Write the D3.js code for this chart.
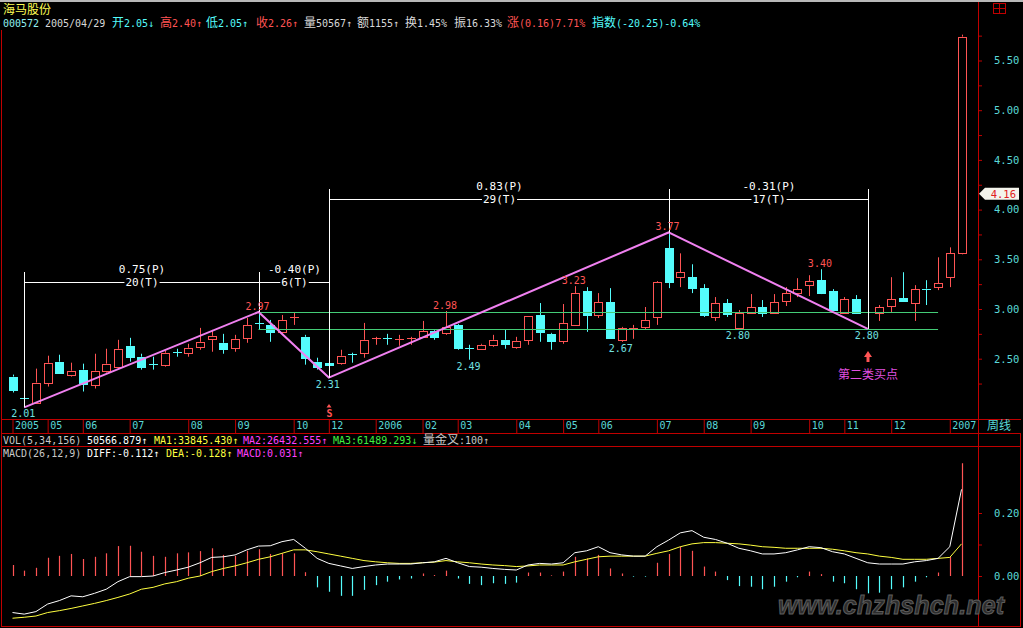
<!DOCTYPE html>
<html>
<head>
<meta charset="utf-8">
<title>海马股份 周线</title>
<script src="https://cdnjs.cloudflare.com/ajax/libs/d3/7.8.5/d3.min.js"></script>
<style>
    body { margin: 0; background: #000; overflow: hidden; }
    #chart-area svg { display: block; }
</style>
</head>
<body>
<div id="chart-area"></div>
<script>
// weekly bars
var opens  = [2.32,2.105,2.05,2.26,2.47,2.34,2.39,2.24,2.38,2.42, 2.63,2.52,2.445,2.44,2.565,2.56,2.62,2.70,2.66,2.61,
              2.71,2.855,2.84,2.77,2.91,2.72,2.47,2.46,2.46,2.545, 2.56,2.70,2.705,2.69,2.70,2.72,2.78,2.76,2.84,2.605,
              2.60,2.64,2.69,2.62,2.69,2.94,2.75,2.68,2.84,3.18, 2.94,3.07,2.69,2.80,2.82,2.92,3.61,3.32,3.32,3.21,
              2.92,3.06,2.81,2.96,3.02,2.96,3.08,3.16,3.24,3.29, 3.18,2.96,3.10,2.965,2.96,3.03,3.11,3.06,3.205,3.22,
              3.32,3.56];
var highs  = [2.34,2.14,2.40,2.53,2.54,2.46,2.45,2.55,2.60,2.69, 2.71,2.55,2.52,2.58,2.60,2.65,2.81,2.79,2.75,2.74,
              2.91,2.97,2.89,2.94,2.96,2.74,2.51,2.50,2.59,2.56, 2.86,2.72,2.75,2.74,2.72,2.88,2.79,2.98,2.85,2.64,
              2.65,2.74,2.79,2.72,2.93,3.06,2.76,3.05,3.23,3.22, 3.16,3.21,2.82,2.84,3.02,3.28,3.77,3.56,3.45,3.25,
              3.12,3.10,2.99,3.15,3.09,3.15,3.22,3.31,3.34,3.40, 3.20,3.12,3.14,2.97,3.04,3.32,3.37,3.24,3.29,3.52,
              3.62,5.76];
var lows   = [2.16,2.01,2.05,2.22,2.35,2.32,2.17,2.20,2.36,2.40, 2.47,2.39,2.39,2.42,2.52,2.52,2.59,2.57,2.55,2.57,
              2.66,2.79,2.67,2.76,2.84,2.44,2.39,2.31,2.44,2.46, 2.51,2.64,2.64,2.63,2.64,2.71,2.69,2.74,2.59,2.49,
              2.59,2.62,2.60,2.60,2.64,2.67,2.59,2.65,2.83,2.77, 2.91,2.70,2.67,2.70,2.79,2.84,3.21,3.22,3.16,2.92,
              2.88,2.92,2.80,2.96,2.92,2.96,3.03,3.12,3.13,3.15, 2.98,2.95,2.95,2.80,2.88,2.97,3.08,2.88,3.04,3.19,
              3.22,3.55];
var closes = [2.19,2.10,2.26,2.46,2.36,2.38,2.25,2.38,2.45,2.60, 2.52,2.42,2.44,2.56,2.56,2.61,2.67,2.73,2.60,2.70,
              2.84,2.85,2.77,2.89,2.915,2.51,2.42,2.44,2.53,2.54, 2.69,2.705,2.70,2.70,2.705,2.78,2.72,2.82,2.61,2.60,
              2.64,2.69,2.65,2.68,2.93,2.77,2.68,2.86,3.16,2.94, 3.07,2.71,2.81,2.81,2.89,3.27,3.27,3.37,3.21,2.94,
              3.06,2.95,2.96,3.02,2.96,3.07,3.16,3.20,3.28,3.16, 2.99,3.10,2.96,2.96,3.02,3.10,3.08,3.20,3.20,3.26,
              3.56,5.74];

// MACD(26,12,9)
var macdBars = [0.035,0.017,0.026,0.058,0.064,0.070,0.054,0.061,0.072,0.095, 0.096,0.077,0.064,0.061,0.072,0.075,0.079,0.088,0.067,0.064,
                0.080,0.085,0.070,0.072,0.072,0.012,-0.036,-0.050,-0.063,-0.063, -0.044,-0.029,-0.018,-0.011,-0.008,0.008,0.003,0.017,-0.008,-0.025,
                -0.029,-0.023,-0.025,-0.021,0.011,0.011,0.002,0.014,0.061,0.056, 0.067,0.024,0.008,-0.002,-0.002,0.042,0.070,0.093,0.080,0.030,
                0.014,-0.013,-0.032,-0.034,-0.042,-0.034,-0.018,-0.004,0.014,0.006, -0.018,-0.023,-0.042,-0.055,-0.053,-0.042,-0.036,-0.018,-0.004,0.011,
                0.061,0.358];
var diffLine = [-0.116,-0.121,-0.113,-0.089,-0.078,-0.063,-0.066,-0.055,-0.042,-0.018, -0.002,-0.002,0.000,0.011,0.019,0.028,0.042,0.059,0.061,0.067,
                0.083,0.095,0.096,0.109,0.116,0.088,0.056,0.040,0.032,0.024, 0.030,0.035,0.038,0.038,0.038,0.042,0.045,0.056,0.042,0.030,
                0.028,0.024,0.021,0.019,0.035,0.040,0.038,0.042,0.074,0.080, 0.093,0.074,0.067,0.063,0.063,0.093,0.114,0.137,0.144,0.123,
                0.116,0.104,0.088,0.080,0.070,0.070,0.074,0.083,0.093,0.090, 0.077,0.070,0.056,0.042,0.038,0.038,0.038,0.045,0.049,0.056,
                0.093,0.275];
var deaLine  = [-0.134,-0.131,-0.127,-0.116,-0.110,-0.103,-0.095,-0.087,-0.078,-0.068, -0.057,-0.042,-0.036,-0.025,-0.018,-0.007,0.000,0.014,0.024,0.032,
                0.042,0.053,0.061,0.072,0.083,0.083,0.077,0.070,0.063,0.056, 0.049,0.045,0.042,0.040,0.040,0.042,0.044,0.049,0.045,0.042,
                0.038,0.035,0.033,0.030,0.032,0.035,0.035,0.035,0.045,0.053, 0.061,0.063,0.063,0.063,0.063,0.072,0.080,0.093,0.102,0.106,
                0.106,0.104,0.102,0.098,0.093,0.091,0.088,0.088,0.088,0.088, 0.085,0.080,0.074,0.070,0.063,0.059,0.053,0.053,0.053,0.056,
                0.059,0.102];

// months along the bottom and the bar each one starts on
var dateLabels = ["2005","05","06","07","08","09","10","12","2006","02","03","04","05","06","07","08","09","10","11","12","2007"];
var dateIndex  = [0,3,6,10,15,19,24,27,31,35,38,43,47,50,55,59,63,68,71,75,80];

var priceTicks = [2.5, 3, 3.5, 4, 4.5, 5, 5.5];
var priceMinorTicks = [2.25, 2.75, 3.25, 3.75, 4.25, 4.75, 5.25, 5.75];
var macdTicks = [0, 0.1, 0.2];

// zigzag
var pivotIndex = [1, 21, 27, 56, 73];
var pivotPrice = [2.01, 2.97, 2.31, 3.77, 2.80];

// measured waves
var waveFrom = [1, 21, 27, 56];
var waveTo = [21, 27, 56, 73];
var wavePriceText = ["0.75(P)", "-0.40(P)", "0.83(P)", "-0.31(P)"];
var waveTimeText = ["20(T)", "6(T)", "29(T)", "17(T)"];
var waveRow = [0, 0, 1, 1];

// highs and lows written on the chart
var markIndex = [1, 21, 27, 37, 39, 48, 52, 56, 62, 69, 73];
var markPrice = [2.01, 2.97, 2.31, 2.98, 2.49, 3.23, 2.67, 3.77, 2.80, 3.40, 2.80];
var markIsHigh = [false, true, false, true, false, true, false, true, false, true, false];

var supportPrice = [2.97, 2.80];
var supportFrom = 21, supportTo = 79;

var currentPrice = 4.16;
var buyIndex = 73, sellIndex = 27;

var headerTexts = ["000572","2005/04/29","开2.05↓","高2.40↑","低2.05↑","收2.26↑","量50567↑","额1155↑","换1.45%","振16.33%","涨(0.16)7.71%","指数(-20.25)-0.64%"];
var volTexts = ["VOL(5,34,156)", "50566.879↑", "MA1:33845.430↑", "MA2:26432.555↑", "MA3:61489.293↓", "量金叉:100↑"];
var macdTexts = ["MACD(26,12,9)", "DIFF:-0.112↑", "DEA:-0.128↑", "MACD:0.031↑"];

var RED = "#ff5454", CYAN = "#54fcfc", FRAME = "#c00000", AXIS_TEXT = "#5ad8d8";
var MONO = "'DejaVu Sans Mono', monospace", CJK = "'Noto Sans CJK SC', sans-serif";

var svg = d3.select("#chart-area").append("svg")
    .attr("width", 1023)
    .attr("height", 628);

svg.append("rect").attr("width", 1023).attr("height", 628).attr("fill", "#000");

// chinese chars a bit bigger than the digits, like the bitmap font
function mixText(sel, str, size) {
    var parts = str.match(/[\u3000-\u9fff\uff00-\uffef]+|[^\u3000-\u9fff\uff00-\uffef]+/g);
    parts.forEach(function(p){
        var isCjk = /[\u3000-\u9fff\uff00-\uffef]/.test(p);
        sel.append("tspan")
            .attr("font-family", isCjk ? CJK : MONO)
            .attr("font-size", isCjk ? size + 2 : size)
            .text(p);
    });
}

var x = d3.scaleLinear().domain([0, 81]).range([12.5, 961.5]);
var y = d3.scaleLinear().domain([2.5, 5.5]).range([358.7, 60.5]);
var ym = d3.scaleLinear().domain([0, 0.2]).range([576, 513]);

// ---- frame ----
svg.append("rect").attr("x", 0).attr("y", 0).attr("width", 1023).attr("height", 2).attr("fill", "#b8b8b8");
var frame = svg.append("g").attr("stroke", FRAME).attr("stroke-width", 1);
frame.append("line").attr("x1", 978.5).attr("x2", 978.5).attr("y1", 2).attr("y2", 627);
frame.append("line").attr("x1", 1.5).attr("x2", 1.5).attr("y1", 30).attr("y2", 627);
frame.append("line").attr("x1", 1020.5).attr("x2", 1020.5).attr("y1", 433).attr("y2", 627);
[419.5, 433.5, 446.5, 626.5].forEach(function(yy){
    frame.append("line").attr("x1", 1).attr("x2", 1021).attr("y1", yy).attr("y2", yy);
});

// little window icon top right
var icon = svg.append("g").attr("stroke", FRAME).attr("fill", "none");
icon.append("rect").attr("x", 993.5).attr("y", 3.5).attr("width", 12).attr("height", 10);
icon.append("line").attr("x1", 999.5).attr("x2", 999.5).attr("y1", 3.5).attr("y2", 13.5);
icon.append("line").attr("x1", 993.5).attr("x2", 1005.5).attr("y1", 8.5).attr("y2", 8.5);

// ---- header ----
var head1 = svg.append("text").attr("x", 3).attr("y", 14).attr("fill", "#ffff54");
mixText(head1, "海马股份", 10);

var headerX = [3, 45, 112, 160, 206, 256, 304, 357, 405, 454, 507, 592];
var headerColor = ["#90f0f0","#d8d8d8",CYAN,RED,CYAN,RED,"#d8d8d8","#d8d8d8","#d8d8d8","#d8d8d8",RED,CYAN];
headerTexts.forEach(function(t, i){
    var tx = svg.append("text").attr("x", headerX[i]).attr("y", 27).attr("fill", headerColor[i]);
    mixText(tx, t, 10);
});

// ---- price axis ----
var priceAxis = svg.append("g")
    .attr("transform", "translate(978,0)")
    .call(d3.axisRight(y).tickValues(priceTicks).tickSize(4).tickPadding(12).tickFormat(d3.format(".2f")));
priceAxis.select(".domain").remove();
priceAxis.selectAll("line").attr("stroke", FRAME);
priceAxis.selectAll("text").attr("fill", AXIS_TEXT).attr("font-family", MONO).attr("font-size", 10.5);

var minorAxis = svg.append("g")
    .attr("transform", "translate(978,0)")
    .call(d3.axisRight(y).tickValues(priceMinorTicks).tickSize(4).tickFormat(""));
minorAxis.select(".domain").remove();
minorAxis.selectAll("line").attr("stroke", FRAME);

// date axis
var dateAxis = svg.append("g")
    .attr("transform", "translate(0,419)")
    .call(d3.axisBottom(x).tickValues(dateIndex).tickSize(14).tickFormat(function(d, i){ return dateLabels[i]; }));
dateAxis.select(".domain").remove();
dateAxis.selectAll("line").attr("stroke", FRAME);
dateAxis.selectAll("text")
    .attr("fill", AXIS_TEXT)
    .attr("font-family", MONO)
    .attr("font-size", 10)
    .attr("text-anchor", "start")
    .attr("x", 2)
    .attr("y", 2.5);
var weekly = svg.append("text").attr("x", 987).attr("y", 430).attr("fill", AXIS_TEXT);
mixText(weekly, "周线", 10);

// ---- candles ----
var candles = opens.map(function(o, i){
    return {i: i, o: o, h: highs[i], l: lows[i], c: closes[i]};
});

var candle = svg.append("g").selectAll("g")
    .data(candles)
    .enter()
    .append("g")
    .attr("transform", function(d){ return "translate(" + (Math.round(x(d.i)) + 0.5) + ",0)"; });

candle.each(function(d){
    var gg = d3.select(this);
    var up = d.c >= d.o;
    var col = up ? RED : CYAN;
    var yTop = y(Math.max(d.o, d.c)), yBot = y(Math.min(d.o, d.c));
    gg.append("line").attr("y1", y(d.h)).attr("y2", yTop).attr("stroke", col);
    gg.append("line").attr("y1", yBot).attr("y2", y(d.l)).attr("stroke", col);
    if (yBot - yTop < 1.5) {
        var yy = Math.round(yTop) + 0.5;
        gg.append("line").attr("x1", -4.5).attr("x2", 4.5).attr("y1", yy).attr("y2", yy).attr("stroke", col);
    } else if (up) {
        gg.append("rect")
            .attr("x", -4).attr("width", 8)
            .attr("y", Math.round(yTop) + 0.5)
            .attr("height", Math.round(yBot) - Math.round(yTop))
            .attr("fill", "#000").attr("stroke", RED);
    } else {
        gg.append("rect")
            .attr("x", -4.5).attr("width", 9)
            .attr("y", Math.round(yTop))
            .attr("height", Math.round(yBot) - Math.round(yTop) + 1)
            .attr("fill", CYAN);
    }
});

// support lines
supportPrice.forEach(function(p){
    var yy = Math.round(y(p)) + 0.5;
    svg.append("line")
        .attr("x1", x(supportFrom)).attr("x2", x(supportTo))
        .attr("y1", yy).attr("y2", yy)
        .attr("stroke", "#44cc77");
});

// zigzag
var zigzag = d3.line()
    .x(function(d){ return x(d); })
    .y(function(d, i){ return y(pivotPrice[i]); });
svg.append("path")
    .attr("d", zigzag(pivotIndex))
    .attr("fill", "none")
    .attr("stroke", "#f080f0")
    .attr("stroke-width", 2);

// ---- wave rulers ----
var rowLine = [282, 199], rowTop = [272, 189];
var rulers = svg.append("g");
waveFrom.forEach(function(a, k){
    var b = waveTo[k], r = waveRow[k];
    var xa = Math.round(x(a)) + 0.5, xb = Math.round(x(b)) + 0.5;
    [a, b].forEach(function(idx){
        var xx = Math.round(x(idx)) + 0.5;
        rulers.append("line")
            .attr("x1", xx).attr("x2", xx)
            .attr("y1", rowTop[r]).attr("y2", y(pivotPrice[pivotIndex.indexOf(idx)]))
            .attr("stroke", "#fff");
    });
    rulers.append("line")
        .attr("x1", xa).attr("x2", xb)
        .attr("y1", rowLine[r] + 0.5).attr("y2", rowLine[r] + 0.5)
        .attr("stroke", "#fff");
    var mid = (xa + xb) / 2;
    rulers.append("text")
        .attr("x", mid).attr("y", rowLine[r] - 9)
        .attr("text-anchor", "middle")
        .attr("fill", "#fff")
        .attr("font-family", MONO).attr("font-size", 11)
        .text(wavePriceText[k]);
    var tt = rulers.append("text")
        .attr("x", mid).attr("y", rowLine[r] + 4)
        .attr("text-anchor", "middle")
        .attr("fill", "#fff")
        .attr("font-family", MONO).attr("font-size", 11)
        .text(waveTimeText[k]);
    var bb = tt.node().getBBox();
    rulers.insert("rect", function(){ return tt.node(); })
        .attr("x", bb.x - 1).attr("y", bb.y)
        .attr("width", bb.width + 2).attr("height", bb.height)
        .attr("fill", "#000");
});

// high / low numbers
markIndex.forEach(function(idx, k){
    var hi = markIsHigh[k];
    svg.append("text")
        .attr("x", x(idx) - 1)
        .attr("y", hi ? y(markPrice[k]) - 2 : y(markPrice[k]) + 10)
        .attr("text-anchor", "middle")
        .attr("fill", hi ? RED : "#70e0e0")
        .attr("font-family", MONO).attr("font-size", 10)
        .text(d3.format(".2f")(markPrice[k]));
});

// buy point arrow + caption
var bx = Math.round(x(buyIndex));
svg.append("path")
    .attr("d", "M" + bx + ",351 L" + (bx + 4) + ",357 L" + (bx + 1.5) + ",357 L" + (bx + 1.5) + ",362 L" + (bx - 1.5) + ",362 L" + (bx - 1.5) + ",357 L" + (bx - 4) + ",357 Z")
    .attr("fill", RED);
svg.append("text")
    .attr("x", bx).attr("y", 379)
    .attr("text-anchor", "middle")
    .attr("fill", "#e050e0")
    .attr("font-family", CJK).attr("font-size", 12)
    .text("第二类买点");

// sell mark
var sx = Math.round(x(sellIndex));
svg.append("path")
    .attr("d", "M" + sx + ",404 L" + (sx + 2.5) + ",407.5 L" + (sx - 2.5) + ",407.5 Z")
    .attr("fill", RED);
svg.append("text")
    .attr("x", sx + 0.5).attr("y", 417)
    .attr("text-anchor", "middle")
    .attr("fill", RED)
    .attr("font-family", MONO).attr("font-size", 10).attr("font-weight", "bold")
    .text("S");

// current price flag
var fy = y(currentPrice);
svg.append("path")
    .attr("d", "M979," + fy + " L985," + (fy - 6) + " L1019," + (fy - 6) + " L1019," + (fy + 6) + " L985," + (fy + 6) + " Z")
    .attr("fill", "#f4f4ec");
svg.append("text")
    .attr("x", 1016).attr("y", fy + 4)
    .attr("text-anchor", "end")
    .attr("fill", "#e02020")
    .attr("font-family", MONO).attr("font-size", 10.5)
    .text(d3.format(".2f")(currentPrice));

// ---- indicator title rows ----
var volX = [3, 87, 154, 243, 333, 423];
var volColor = ["#c8c8c8", "#fff", "#ffff40", "#ff40ff", "#40f040", "#c8c8c8"];
volTexts.forEach(function(t, i){
    var tx = svg.append("text").attr("x", volX[i]).attr("y", 444).attr("fill", volColor[i]);
    mixText(tx, t, 10);
});
var macdX = [3, 87, 166, 237];
var macdColor = ["#c8c8c8", "#fff", "#ffff40", "#ff40ff"];
macdTexts.forEach(function(t, i){
    var tx = svg.append("text").attr("x", macdX[i]).attr("y", 457).attr("fill", macdColor[i]);
    mixText(tx, t, 10);
});

// ---- MACD pane ----
var macdAxis = svg.append("g")
    .attr("transform", "translate(978,0)")
    .call(d3.axisRight(ym).tickValues(macdTicks).tickSize(4).tickPadding(12)
        .tickFormat(function(d){ return d === 0.1 ? "" : d3.format(".2f")(d); }));
macdAxis.select(".domain").remove();
macdAxis.selectAll("line").attr("stroke", FRAME);
macdAxis.selectAll("text").attr("fill", AXIS_TEXT).attr("font-family", MONO).attr("font-size", 10.5);

svg.append("g").selectAll("line")
    .data(macdBars)
    .enter()
    .append("line")
    .attr("x1", function(d, i){ return Math.round(x(i)) + 0.5; })
    .attr("x2", function(d, i){ return Math.round(x(i)) + 0.5; })
    .attr("y1", ym(0))
    .attr("y2", function(d){ return ym(d); })
    .attr("stroke", function(d){ return d >= 0 ? RED : CYAN; })
    .attr("stroke-width", 1.2);

var macdLine = d3.line()
    .x(function(d, i){ return x(i); })
    .y(function(d){ return ym(d); });

svg.append("path")
    .attr("d", macdLine(deaLine))
    .attr("fill", "none")
    .attr("stroke", "#ffff40")
    .attr("stroke-width", 1);

svg.append("path")
    .attr("d", macdLine(diffLine))
    .attr("fill", "none")
    .attr("stroke", "#fff")
    .attr("stroke-width", 1);

// watermark
svg.append("text")
    .attr("x", 778).attr("y", 614)
    .attr("textLength", 226)
    .attr("fill", "#2c2c2c")
    .attr("stroke", "#5c5c5c")
    .attr("stroke-width", 1)
    .attr("font-family", "'Liberation Sans', sans-serif")
    .attr("font-size", 25)
    .attr("font-weight", "bold")
    .attr("font-style", "italic")
    .text("www.chzhshch.net");
</script>
</body>
</html>
